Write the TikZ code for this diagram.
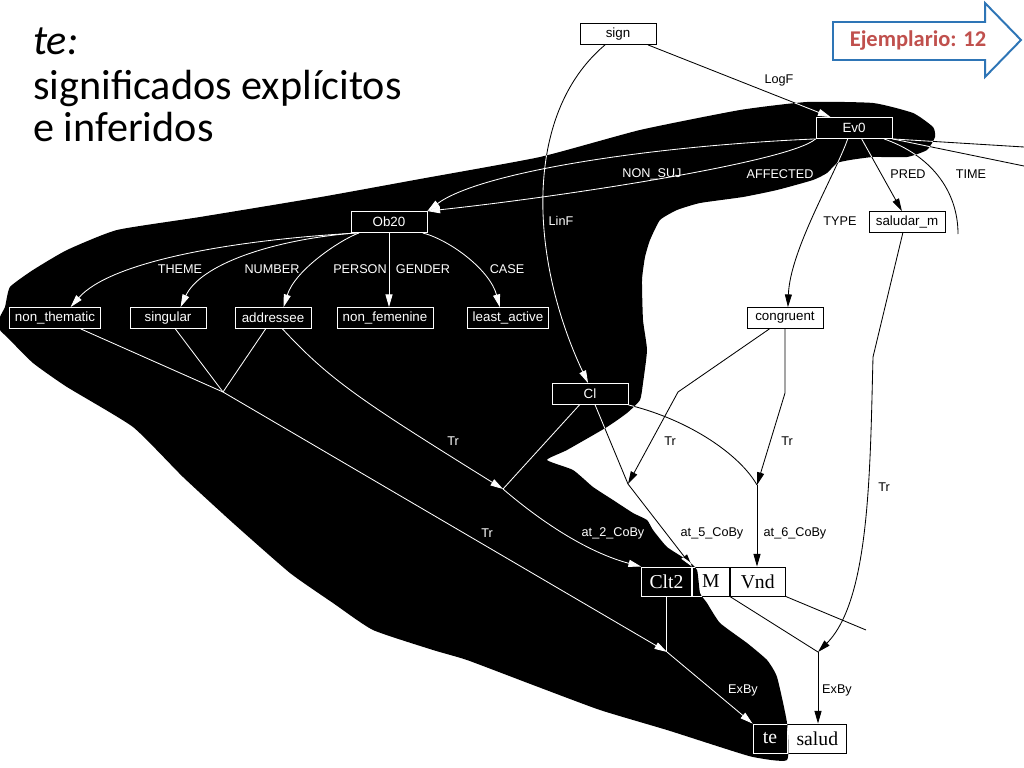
\documentclass[tikz,border=0pt]{standalone}
\usepackage{fontspec}
\usetikzlibrary{positioning,arrows.meta}
\newfontfamily\arialfam{Liberation Sans}
\newfontfamily\timesfam{Liberation Serif}
\newfontfamily\calfam{Carlito}
\definecolor{arrowblue}{RGB}{46,117,182}
\definecolor{ejred}{RGB}{192,80,77}
\colorlet{ink}{black}
\tikzset{
  box/.style={draw=ink,text=ink,line width=0.6pt,font=\arialfam\fontsize{9.5}{10}\selectfont,minimum width=1.9cm,minimum height=0.525cm,inner xsep=4pt,inner ysep=0pt},
  wbox/.style={draw=ink,text=ink,line width=0.6pt,font=\timesfam\fontsize{14}{15}\selectfont,minimum height=0.725cm,inner sep=0pt},
  lab/.style={text=ink,font=\arialfam\fontsize{9}{10}\selectfont,inner sep=1pt},
  link/.style={draw=ink,line width=0.6pt},
  rel/.style={link,-{Triangle[length=9pt,width=5pt]}}
}
% the whole graph, drawn in the colour ink
\newcommand{\semgraph}{%
  \node[box] (sign) at (618,34) {sign};
  \node[box] (ev) at (854,128) {Ev0};
  \node[box] (ob) at (389,222) {Ob20};
  \node[box] (salm) at (907,222) {saludar\_m};
  \node[box] (nonth) at (55,318) {non\_thematic};
  \node[box] (sing) at (168,318) {singular};
  \node[box] (addr) at (273,318) {addressee};
  \node[box] (nonfem) at (385,318) {non\_femenine};
  \node[box] (least) at (508,318) {least\_active};
  \node[box] (cong) at (785,318) {congruent};
  \node[box] (cl) at (590,394) {Cl};
  \node[wbox,minimum width=1.25cm] (clt) at (666.5,581.5) {Clt2};
  \node[wbox,minimum width=0.925cm,right=0pt of clt] (m) {M};
  \node[wbox,minimum width=1.375cm,right=0pt of m] (vnd) {Vnd};
  \node[wbox,minimum width=0.85cm] (te) at (770,738.5) {te};
  \node[wbox,minimum width=1.475cm,right=0pt of te] (salud) {salud};
  \coordinate (j1) at (223,392);
  \coordinate (j2) at (667,652);
  \coordinate (j3) at (503,489);
  \coordinate (j4) at (628,484);
  \coordinate (j5) at (757,485);
  \coordinate (j6) at (818,652);
  \coordinate (k1) at (678,392);
  \coordinate (k2) at (785,393);
  \coordinate (k3) at (873,357);
  \coordinate (timeend) at (958,234);
  \coordinate (offa) at (1024,147);
  \coordinate (offb) at (1024,166);
  \coordinate (vndend) at (866,630);
  \draw[rel] (sign.-20) -- (ev.155);
  \draw[rel] (sign.-140) .. controls (522,115) and (530,260) .. (cl.100);
  \draw[rel] (ev.south west) .. controls (650,146) and (480,172) .. (ob.north east);
  \draw[rel] (ev.south west) .. controls (790,162) and (560,197) .. (ob.north east);
  \draw[rel] (ev.-55) -- (salm.115);
  \draw[rel] (ev.-120) .. controls (835,175) and (790,250) .. (cong.75);
  \draw[link] (ev.-20) .. controls (930,155) and (958,190) .. (timeend);
  \draw[link] (ev.south east) -- (offa);
  \draw[link] (ev.south east) -- (offb);
  \draw[rel] (ob.-160) .. controls (230,240) and (110,262) .. (nonth.35);
  \draw[rel] (ob.-162) .. controls (270,240) and (200,265) .. (sing.41);
  \draw[rel] (ob.-160) .. controls (340,240) and (295,270) .. (addr.46);
  \draw[rel] (ob.south) -- (ob.south |- nonfem.north);
  \draw[rel] (ob.-18) .. controls (450,240) and (490,270) .. (least.127);
  \draw[rel] (nonth.-23) -- (j1) -- (j2);
  \draw[link] (sing.-56) -- (j1);
  \draw[link] (addr.-124) -- (j1);
  \draw[rel] (addr.-49) .. controls (330,380) and (360,400) .. (j3);
  \draw[link] (cl.-134) -- (j3);
  \draw[rel] (j3) .. controls (545,525) and (590,553) .. (clt.north west);
  \draw[link] (cl.-65) -- (j4);
  \draw[rel] (j4) -- (clt.north east);
  \draw[rel] (cong.-145) -- (k1) -- (j4);
  \draw[rel] (cong.south) -- (k2) -- (j5);
  \draw[link] (cl.south east) .. controls (690,420) and (740,455) .. (j5);
  \draw[rel] (j5) -- (j5 |- vnd.north);
  \draw[link] (salm.-111) -- (k3);
  \draw[rel] (k3) .. controls (870,470) and (870,600) .. (j6);
  \draw[link] (vnd.south west) -- (j6);
  \draw[link] (vnd.south east) -- (vndend);
  \draw[link] (clt.south) -- (clt.south |- j2);
  \draw[rel] (j2) -- (te.north west);
  \draw[rel] (j6) -- (j6 |- salud.north);
  \node[lab] (lLogF) at (779,80) {LogF};
  \node[lab] (lLinF) at (561,221) {LinF};
  \node[lab] (lNonSuj) at (652,174) {NON\_SUJ};
  \node[lab] (lAff) at (780,174) {AFFECTED};
  \node[lab] (lPred) at (908,174) {PRED};
  \node[lab] (lTime) at (971,174) {TIME};
  \node[lab] (lType) at (840,221) {TYPE};
  \node[lab] (lTheme) at (180,269) {THEME};
  \node[lab] (lNumber) at (272,269) {NUMBER};
  \node[lab] (lPerson) at (360,269) {PERSON};
  \node[lab] (lGender) at (423,269) {GENDER};
  \node[lab] (lCase) at (507,269) {CASE};
  \node[lab] (lTrA) at (453,441) {Tr};
  \node[lab] (lTrB) at (487,533) {Tr};
  \node[lab] (lTrC) at (670,441) {Tr};
  \node[lab] (lTrD) at (787,441) {Tr};
  \node[lab] (lTrE) at (884,487) {Tr};
  \node[lab] (lAt2) at (613,533) {at\_2\_CoBy};
  \node[lab] (lAt5) at (712,533) {at\_5\_CoBy};
  \node[lab] (lAt6) at (795,533) {at\_6\_CoBy};
  \node[lab] (lExA) at (743,690) {ExBy};
  \node[lab] (lExB) at (837,690) {ExBy};
}

\begin{document}
\begin{tikzpicture}[x=0.025cm,y=-0.025cm]
\useasboundingbox (0,0) rectangle (1024,768);
\node[anchor=base west,inner sep=0pt,font=\calfam\itshape\fontsize{30}{36}\selectfont] (title) at (33,55) {te:};
\node[anchor=base west,inner sep=0pt,font=\calfam\fontsize{30}{36}\selectfont] (subA) at (33,100) {significados explícitos};
\node[anchor=base west,inner sep=0pt,font=\calfam\fontsize{30}{36}\selectfont] (subB) at (33,142) {e inferidos};
\draw[arrowblue,line width=1.4pt,fill=white] (833,22) -- (985,22) -- (985,3) -- (1021,40) -- (985,77) -- (985,60) -- (833,60) -- cycle;
\node[text=ejred,font=\calfam\bfseries\fontsize{16}{18}\selectfont] (ejem) at (918,41) {Ejemplario: 12};
\semgraph
\begin{scope}
\clip plot[smooth cycle,tension=0.3] coordinates {(935,137) (933,127) (913,113) (873,103) (807,102) (740,110) (640,130) (540,157) (420,179) (321,197) (200,217) (117,230) (67,250) (33,270) (10,287) (5,307) (0,317) (0,330) (7,337) (33,363) (67,387) (133,427) (183,477) (233,523) (290,573) (333,603) (373,630) (433,650) (467,660) (533,685) (600,710) (667,730) (720,747) (753,757) (787,760) (787,723) (777,677) (767,660) (747,643) (720,623) (707,603) (700,593) (697,570) (687,560) (667,547) (653,530) (647,520) (633,513) (613,500) (593,487) (573,470) (547,460) (567,450) (607,427) (627,413) (640,400) (643,383) (647,350) (643,320) (642,280) (645,257) (650,240) (660,220) (677,210) (700,203) (743,197) (777,190) (813,180) (827,173) (837,163) (850,160) (873,157) (907,157) (927,150)};
\fill[black] (0,0) rectangle (1024,768);
\colorlet{ink}{white}
\semgraph
\end{scope}
\end{tikzpicture}
\end{document}
